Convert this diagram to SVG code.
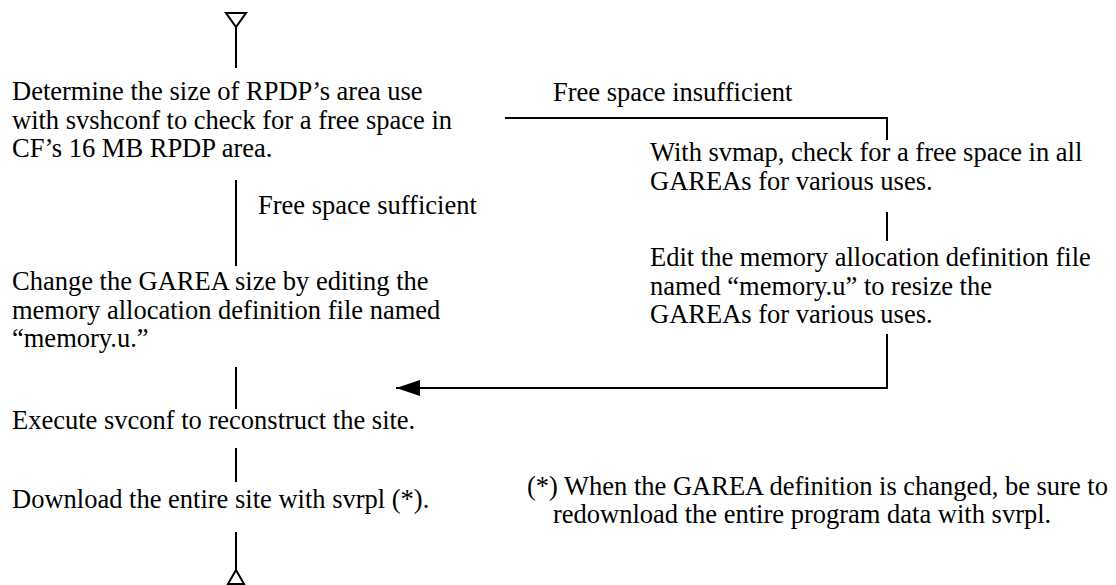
<svg xmlns="http://www.w3.org/2000/svg" width="1116" height="585" viewBox="0 0 1116 585">
<defs>
<style>
text{font-family:"Liberation Serif","Times New Roman",serif;font-size:26.5px;fill:#000}
.ln{stroke:#000;stroke-width:2;fill:none}
.term{stroke:#000;stroke-width:2;fill:#fff}
</style>
<marker id="ah" viewBox="0 0 12 8" refX="12" refY="4" markerWidth="12" markerHeight="8" markerUnits="strokeWidth" orient="auto">
<path d="M0,0 L12,4 L0,8 Z" fill="#000"/>
</marker>
</defs>
<rect width="1116" height="585" fill="#fff"/>
<g id="start"><polygon class="term" points="226,13 246,13 236,27"/></g>
<g id="n1">
<text x="12" y="100">Determine the size of RPDP’s area use</text>
<text x="12" y="128.5">with svshconf to check for a free space in</text>
<text x="12" y="157">CF’s 16 MB RPDP area.</text>
</g>
<g id="lbl_insufficient"><text x="553" y="101">Free space insufficient</text></g>
<g id="lbl_sufficient"><text x="258" y="214">Free space sufficient</text></g>
<g id="n2">
<text x="650" y="161">With svmap, check for a free space in all</text>
<text x="650" y="189.5">GAREAs for various uses.</text>
</g>
<g id="n3">
<text x="650" y="266">Edit the memory allocation definition file</text>
<text x="650" y="294.5">named “memory.u” to resize the</text>
<text x="650" y="323">GAREAs for various uses.</text>
</g>
<g id="n4">
<text x="12" y="290">Change the GAREA size by editing the</text>
<text x="12" y="318.5">memory allocation definition file named</text>
<text x="12" y="347">“memory.u.”</text>
</g>
<g id="n5"><text x="12" y="429">Execute svconf to reconstruct the site.</text></g>
<g id="n6"><text x="12" y="508">Download the entire site with svrpl (*).</text></g>
<g id="note">
<text x="527" y="495">(*) When the GAREA definition is changed, be sure to</text>
<text x="553" y="523">redownload the entire program data with svrpl.</text>
</g>
<g id="end"><polygon class="term" points="236,570 228,584 244,584"/></g>
<g id="connectors">
<line class="ln" x1="236" y1="27" x2="236" y2="68"/>
<polyline class="ln" points="505,118 887,118 887,140"/>
<line class="ln" x1="236" y1="180" x2="236" y2="266"/>
<line class="ln" x1="887" y1="212" x2="887" y2="241"/>
<polyline class="ln" points="887,334 887,388 396,388" marker-end="url(#ah)"/>
<line class="ln" x1="236" y1="367" x2="236" y2="409"/>
<line class="ln" x1="236" y1="448" x2="236" y2="482"/>
<line class="ln" x1="236" y1="532" x2="236" y2="570"/>
</g>
</svg>
